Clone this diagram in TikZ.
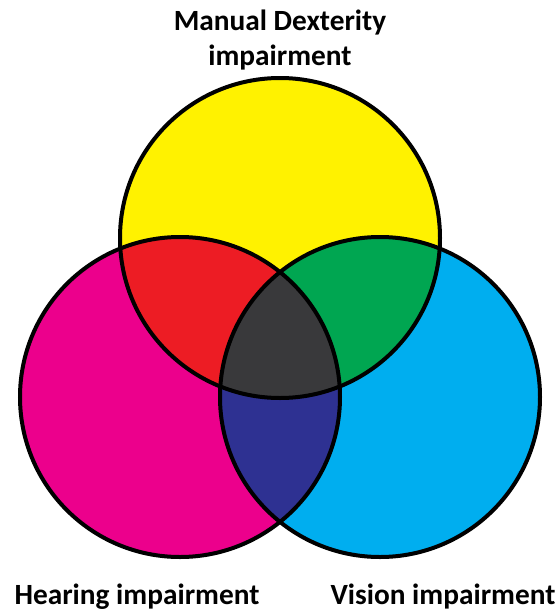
\documentclass[tikz,border=0pt]{standalone}
\usepackage{fontspec}
\setmainfont{Carlito}
\usepackage{tikz}
\definecolor{vnyellow}{HTML}{FFF200}
\definecolor{vnmagenta}{HTML}{EC008C}
\definecolor{vncyan}{HTML}{00AEEF}
\definecolor{vnred}{HTML}{ED1C24}
\definecolor{vngreen}{HTML}{00A651}
\definecolor{vnblue}{HTML}{2E3192}
\definecolor{vncore}{HTML}{39393B}
\tikzset{
  ring/.style={draw=black, line width=3pt},
  ttl/.style={font=\bfseries\fontsize{22}{26}\selectfont, align=center, inner sep=0pt},
}

\begin{document}
\begin{tikzpicture}[x=0.75pt, y=-0.75pt]
    \useasboundingbox (0,0) rectangle (557,611);
    \coordinate (dx) at (280,238);
    \coordinate (he) at (180,397);
    \coordinate (vi) at (380,397);
    \def\rr{160}
    \fill[vnyellow] (dx) circle[radius=\rr];
    \fill[vnmagenta] (he) circle[radius=\rr];
    \fill[vncyan] (vi) circle[radius=\rr];
    \begin{scope}
      \clip (dx) circle[radius=\rr];
      \fill[vnred] (he) circle[radius=\rr];
      \fill[vngreen] (vi) circle[radius=\rr];
    \end{scope}
    \begin{scope}
      \clip (he) circle[radius=\rr];
      \fill[vnblue] (vi) circle[radius=\rr];
      \clip (vi) circle[radius=\rr];
      \fill[vncore] (dx) circle[radius=\rr];
    \end{scope}
    \foreach \c in {dx,he,vi}
      \draw[ring] (\c) circle[radius=\rr];
    \node[ttl] (tdx) at (280,40) {Manual Dexterity\\impairment};
    \node[ttl] (the) at (137,597) {Hearing impairment};
    \node[ttl] (tvi) at (443,597) {Vision impairment};
\end{tikzpicture}
\end{document}
